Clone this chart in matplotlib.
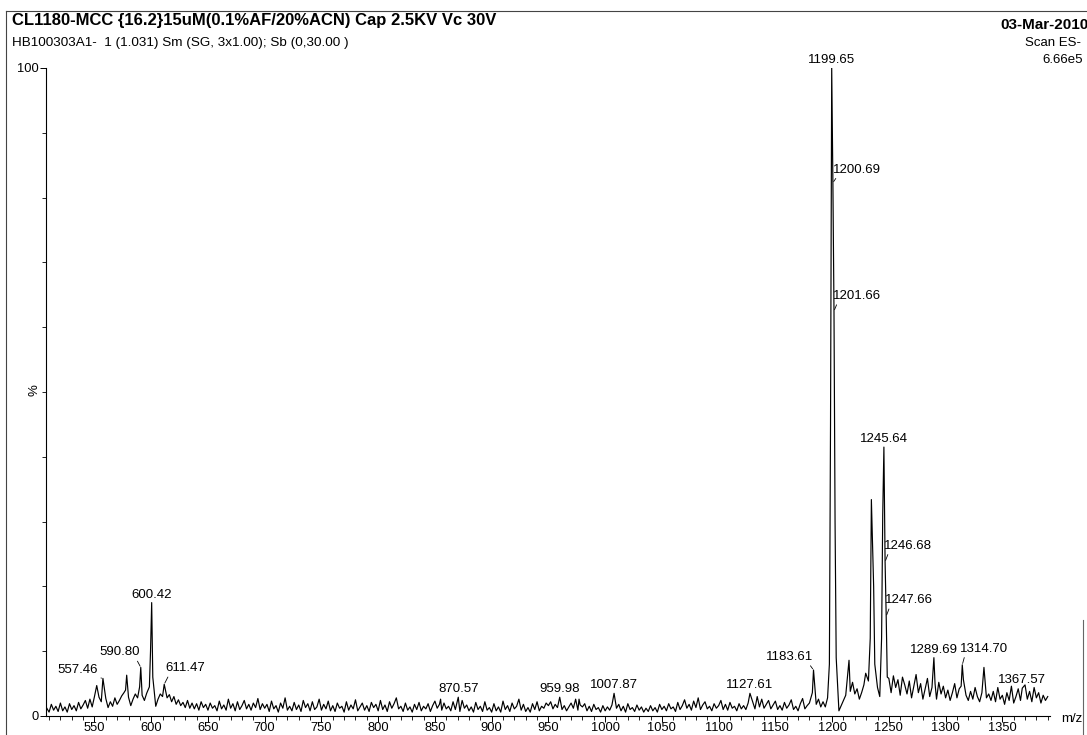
import numpy as np
import matplotlib.pyplot as plt
from matplotlib.lines import Line2D

plt.rcParams['font.family'] = ['Liberation Sans', 'DejaVu Sans']

W, H = 1087, 735

# baseline noise, one value per 2 m/z
noise_a_start = 508
noise_a = [1.2, 0.6, 1.8, 0.9, 1.5, 0.7, 2.0, 0.8, 1.4, 0.6, 1.9, 1.0, 1.6, 0.8, 2.1, 1.1, 1.7, 2.4, 1.2, 2.6, 1.4, 3.0, 1.8, 2.9, 2.2,
           1.6, 2.7, 1.3, 2.2, 1.5, 2.8, 1.8, 2.4, 3.1, 3.6, 4.2, 2.9, 1.6, 2.6, 3.4, 2.8, 3.8, 3.2, 2.4, 3.5, 2.6, 1.0, 0.8, 1.5, 2.6,
           3.4, 3.0, 3.6, 2.8, 3.3, 2.2, 3.0, 1.8, 2.5, 1.6, 2.1, 1.3, 2.4, 1.2, 2.0, 1.1, 1.9, 0.9, 2.2, 1.3, 1.8, 0.9, 2.0, 1.2, 1.6,
           0.8, 2.3, 1.1, 1.7, 0.9, 2.6, 1.2, 1.9, 0.8, 2.2, 1.0, 1.6, 2.4, 1.1, 1.8, 0.9, 2.0, 1.3, 2.7, 1.0, 1.9, 1.2]
noise_b_start = 702
noise_b = [1.8, 0.7, 2.3, 1.1, 1.6, 0.6, 2.0, 1.2, 2.8, 0.9, 1.5, 0.8, 2.1, 1.0, 1.7, 0.7, 2.4, 1.3, 1.9, 0.8, 2.2, 1.0, 1.4, 2.6, 0.9,
           1.8, 1.1, 2.3, 0.8, 1.6, 0.7, 2.0, 1.2, 1.5, 0.6, 2.2, 0.9, 1.7, 1.1, 2.5, 0.8, 1.4, 2.0, 0.9, 1.6, 0.7, 2.1, 1.3, 1.8, 0.8,
           2.4, 1.0, 1.7, 0.7, 2.2, 1.2, 1.9, 2.8, 1.1, 1.5, 0.7, 2.0, 0.9, 1.4, 0.6, 1.8, 1.0, 2.1, 0.8, 1.5, 1.1, 1.9, 0.7, 1.6, 2.3,
           1.2, 1.8, 0.9, 2.0, 1.1, 1.5, 0.8, 2.2, 1.0, 1.6, 0.7, 2.4, 1.2, 1.7, 0.8, 1.4, 0.6, 2.1, 1.0, 1.5, 0.7, 2.2, 0.9, 1.3, 0.6,
           1.9, 0.8, 1.4, 0.6, 2.3, 1.0, 1.6, 0.7, 2.0, 1.1, 1.5, 2.6, 0.9, 1.8, 0.7, 1.3, 0.6, 1.9, 1.0, 2.2, 0.8, 1.5, 1.2, 2.0, 1.6,
           2.2, 1.1, 1.8, 1.3, 2.4, 1.0, 1.6, 0.8, 1.4, 2.0, 1.2, 2.6, 0.9, 1.7, 1.4, 1.9, 0.8, 1.5, 0.7, 1.8, 1.0, 1.3, 0.6, 1.6, 0.8,
           1.4, 0.9, 1.7, 2.2, 1.2, 1.8, 0.8, 1.5, 0.6, 1.9, 1.0, 1.3, 0.7, 1.7, 0.9, 1.4, 0.6, 1.2, 0.7, 1.6, 0.8, 1.3, 0.6, 1.8, 1.0,
           1.5, 0.8, 1.9, 1.1, 1.4, 0.7, 2.1, 1.0, 1.6, 2.5, 1.2, 1.8, 0.9, 2.3, 1.3, 2.8, 1.0, 1.7, 2.2, 1.1, 1.5, 0.8, 1.9, 1.2, 1.6,
           2.4, 1.0, 1.8, 0.9, 2.1, 1.2, 1.5, 0.8, 1.9, 1.1, 1.6, 1.0, 2.0, 1.3, 2.2, 1.1, 3.0, 1.4, 2.6, 1.2, 1.8, 2.4, 1.1, 1.7, 2.3,
           1.0, 1.6, 0.9, 2.1, 1.2, 1.7, 2.5, 1.0, 1.5, 0.8, 1.9, 2.7, 1.1, 1.6, 2.0, 3.2, 2.4, 1.8, 2.6, 1.4]
noise_c_start = 1192
noise_c = [2.2, 1.4, 2.8, 3.0, 3.0, 3.0, 2.0, 0.8, 1.6, 2.4, 3.2, 4.6, 3.8, 5.2, 3.4, 4.2, 2.6, 3.6, 4.8, 3.9, 5.4, 6.0, 5.0, 6.2, 4.4,
           3.0, 5.6, 4.0, 4.0, 5.8, 3.6, 6.2, 4.4, 5.6, 3.2, 6.0, 4.8, 3.4, 5.4, 2.8, 4.6, 6.4, 3.6, 5.0, 2.6, 4.2, 5.8, 3.0, 4.4, 3.8,
           2.6, 5.2, 3.4, 4.6, 2.8, 4.0, 2.4, 3.6, 5.0, 2.8, 4.2, 3.0, 4.6, 3.2, 2.4, 3.8, 2.6, 4.4, 3.0, 2.2, 3.6, 4.8, 2.8, 3.4, 2.4,
           3.8, 2.2, 4.4, 2.6, 3.2, 1.8, 3.6, 2.4, 4.6, 2.0, 3.0, 4.2, 2.4, 3.4, 4.8, 2.6, 3.8, 2.2, 4.4, 2.8, 3.6, 2.0, 3.2, 2.4, 3.0]

# distinct peaks (m/z, relative intensity %)
peak_mz = [552.0, 557.46, 577.4, 578.4, 589.8, 590.80, 598.4, 599.4, 600.42, 601.4, 611.47,
           855.0, 870.57, 959.98, 977.0, 1007.87, 1127.61, 1182.6, 1183.61,
           1197.6, 1198.6, 1199.65, 1200.69, 1201.66, 1202.6, 1203.6, 1214.9, 1229.6,
           1233.6, 1234.6, 1235.6, 1236.6, 1237.6, 1243.6, 1244.6, 1245.64, 1246.68, 1247.66, 1248.6,
           1289.69, 1290.7, 1313.7, 1314.70, 1315.7, 1333.8, 1367.57]
peak_int = [4.7, 5.8, 4.0, 6.3, 4.5, 7.5, 4.5, 10.0, 17.5, 6.0, 4.9,
            2.6, 2.9, 2.9, 2.6, 3.5, 3.5, 3.6, 7.1,
            8.0, 45.0, 100.0, 82.3, 62.5, 30.0, 9.0, 8.6, 6.6,
            12.0, 33.4, 26.6, 20.0, 8.0, 12.0, 31.0, 41.5, 23.8, 15.4, 6.0,
            9.0, 5.0, 4.6, 7.9, 5.6, 7.5, 4.3]

labelled_mz = [557.46, 590.80, 600.42, 611.47, 870.57, 959.98, 1007.87, 1127.61, 1183.61,
               1199.65, 1200.69, 1201.66, 1245.64, 1246.68, 1247.66, 1289.69, 1314.70, 1367.57]

# label centre offsets (pixels) for labels with a leader line
leader_offsets = {557.46: (-25, 8), 590.80: (-21, 15), 611.47: (21, 16), 1183.61: (-24, 13),
                  1200.69: (24, 13), 1201.66: (23, 15), 1246.68: (23, 16), 1247.66: (23, 16),
                  1314.70: (22, 16)}

# assemble the trace
noise_mz = np.concatenate([noise_a_start + 2 * np.arange(len(noise_a)),
                           noise_b_start + 2 * np.arange(len(noise_b)),
                           noise_c_start + 2 * np.arange(len(noise_c))]).astype(float)
noise_int = np.array(noise_a + noise_b + noise_c)
pk = np.array(peak_mz)
keep = np.array([np.min(np.abs(pk - m)) >= 1.0 for m in noise_mz])
mz = np.concatenate([noise_mz[keep], pk])
inten = np.concatenate([noise_int[keep], np.array(peak_int)])
order = np.argsort(mz)
mz, inten = mz[order], inten[order]

fig = plt.figure(figsize=(W / 100, H / 100), dpi=100)
ax = fig.add_axes([46 / W, 19 / H, (1050 - 46) / W, (716 - 68) / H])
ax.plot(mz, inten, color='black', lw=0.85)
ax.set_xlim(507.3, 1392)
ax.set_ylim(0, 100)

for s in ['top', 'right']:
    ax.spines[s].set_visible(False)
ax.spines['left'].set_linewidth(0.8)
ax.spines['bottom'].set_linewidth(0.8)

ax.set_xticks(np.arange(550, 1351, 50))
ax.set_xticks(np.arange(510, 1391, 10), minor=True)
ax.set_yticks([0, 100])
ax.set_yticks(np.arange(10, 100, 10), minor=True)
ax.tick_params(which='major', length=4, width=0.7, labelsize=9.3, pad=1)
ax.tick_params(axis='x', which='major', pad=0)
ax.tick_params(which='minor', length=3, width=0.6)

for m in labelled_mz:
    h = peak_int[peak_mz.index(m)]
    txt = f"{m:.2f}"
    if m in leader_offsets:
        dx, dy = leader_offsets[m]
        rp = (0.1, 0.0) if dx > 0 else (0.9, 0.0)
        ax.annotate(txt, xy=(m, h), xytext=(dx, dy), textcoords='offset pixels',
                    ha='center', va='center', fontsize=9.5,
                    arrowprops=dict(arrowstyle='-', lw=0.6, color='black',
                                    shrinkA=0, shrinkB=1, relpos=rp))
    else:
        ax.annotate(txt, xy=(m, h), xytext=(0, 2), textcoords='offset pixels',
                    ha='center', va='bottom', fontsize=9.5)

fig.text(34 / W, 1 - 390 / H, '%', rotation=90, ha='center', va='center', fontsize=9.5)
fig.text(1061 / W, 1 - 719 / H, 'm/z', ha='left', va='center', fontsize=9.5)

fig.text(12 / W, 1 - 21 / H, 'CL1180-MCC {16.2}15uM(0.1%AF/20%ACN) Cap 2.5KV Vc 30V',
         fontsize=12, fontweight='bold', va='center')
fig.text(12 / W, 1 - 43 / H, 'HB100303A1-  1 (1.031) Sm (SG, 3x1.00); Sb (0,30.00 )',
         fontsize=9.7, va='center')
fig.text(1089 / W, 1 - 25 / H, '03-Mar-2010', fontsize=11, fontweight='bold', ha='right', va='center')
fig.text(1081 / W, 1 - 43 / H, 'Scan ES-', fontsize=9.5, ha='right', va='center')
fig.text(1083 / W, 1 - 60 / H, '6.66e5', fontsize=9.5, ha='right', va='center')

# scanned page border
fig.add_artist(Line2D([6 / W, 1], [1 - 11 / H, 1 - 11 / H], color='#444444', lw=0.8))
fig.add_artist(Line2D([6 / W, 6 / W], [0, 1 - 11 / H], color='#444444', lw=0.8))
fig.add_artist(Line2D([1083 / W, 1083 / W], [0, 1 - 620 / H], color='#666666', lw=0.8))

fig.savefig('out.png', dpi=100)
